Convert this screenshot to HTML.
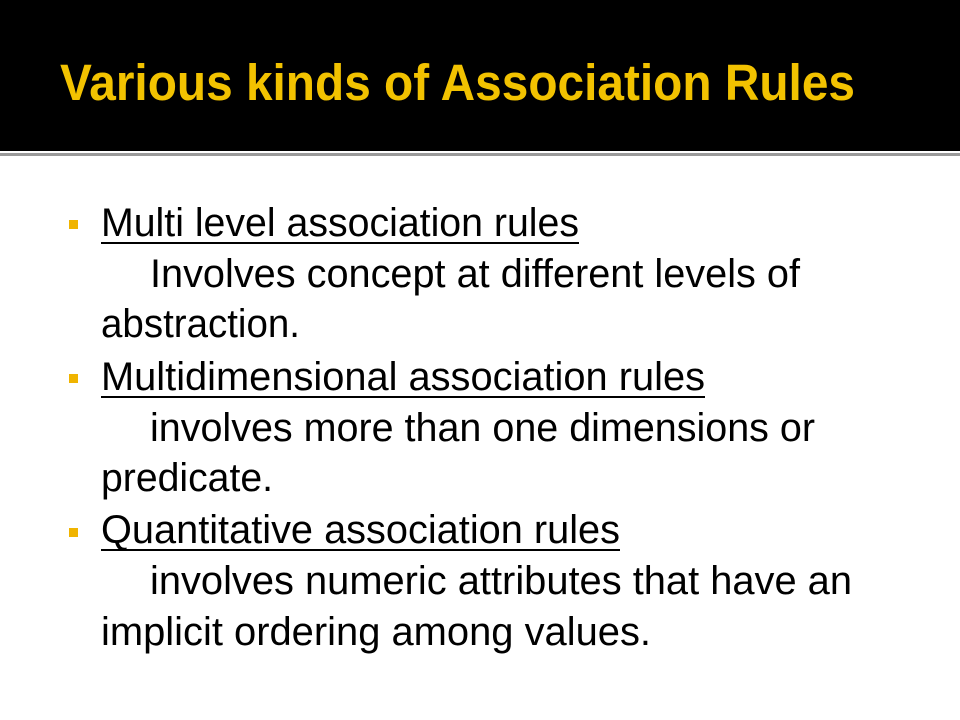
<!DOCTYPE html>
<html><head><meta charset="utf-8"><style>
html,body{margin:0;padding:0;width:960px;height:720px;overflow:hidden;background:#fff}
svg text{font-family:"Liberation Sans",sans-serif}
</style></head><body>
<svg width="960" height="720">
<rect x="0" y="0" width="960" height="151" fill="#000"/>
<rect x="0" y="153" width="960" height="3" fill="#9a9a9a"/>
<text x="60" y="100" font-size="51" font-weight="bold" fill="#f2c200" textLength="795" lengthAdjust="spacingAndGlyphs">Various kinds of Association Rules</text>
<g font-size="40" fill="#000">
<rect x="69" y="220" width="9" height="9" fill="#f0b400"/>
<text x="101" y="236" textLength="478" lengthAdjust="spacingAndGlyphs">Multi level association rules</text>
<rect x="101" y="242" width="478" height="2" fill="#000"/>
<text x="150" y="287" textLength="650" lengthAdjust="spacingAndGlyphs">Involves concept at different levels of</text>
<text x="101" y="337" textLength="199" lengthAdjust="spacingAndGlyphs">abstraction.</text>
<rect x="69" y="374" width="9" height="9" fill="#f0b400"/>
<text x="101" y="390" textLength="604" lengthAdjust="spacingAndGlyphs">Multidimensional association rules</text>
<rect x="101" y="396" width="604" height="2" fill="#000"/>
<text x="150" y="441" textLength="665" lengthAdjust="spacingAndGlyphs">involves more than one dimensions or</text>
<text x="101" y="491" textLength="172" lengthAdjust="spacingAndGlyphs">predicate.</text>
<rect x="69" y="528" width="9" height="9" fill="#f0b400"/>
<text x="101" y="543" textLength="519" lengthAdjust="spacingAndGlyphs">Quantitative association rules</text>
<rect x="101" y="549" width="519" height="2" fill="#000"/>
<text x="150" y="594" textLength="702" lengthAdjust="spacingAndGlyphs">involves numeric attributes that have an</text>
<text x="101" y="645" textLength="550" lengthAdjust="spacingAndGlyphs">implicit ordering among values.</text>
</g>
</svg>
</body></html>
